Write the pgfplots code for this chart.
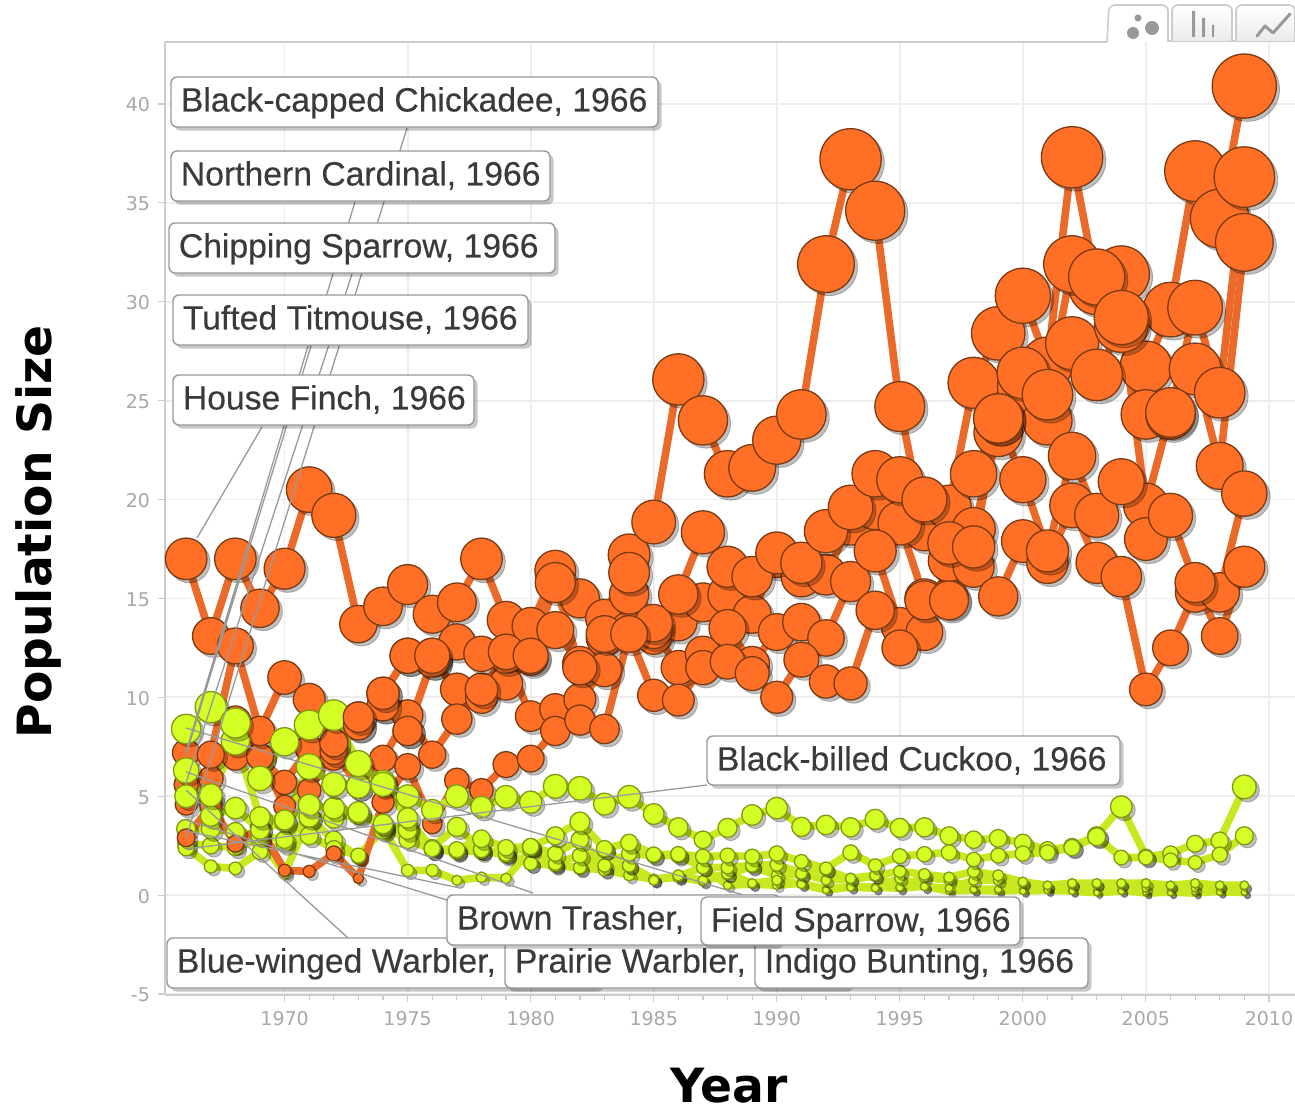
\documentclass[border=0pt]{standalone}
\usepackage{fontspec}
\setmainfont{Liberation Sans}
\newfontfamily\tickfont{DejaVu Sans}
\newfontfamily\labfont{Liberation Sans}[FakeBold=0.3]
\usepackage{pgfplots}
\usepackage{pgfplotstable}
\pgfplotsset{compat=1.18}
\usetikzlibrary{shadows}

\definecolor{ofill}{HTML}{FF7026}
\definecolor{oline}{HTML}{EB6A2A}
\definecolor{oedge}{HTML}{7A3A14}
\definecolor{gfill}{HTML}{D4FF24}
\definecolor{gline}{HTML}{C8E820}
\definecolor{gedge}{HTML}{7F9A12}
\definecolor{gridc}{HTML}{EDEDED}
\definecolor{axisc}{HTML}{CCCCCC}
\definecolor{tickc}{HTML}{A8A8A8}
\definecolor{leadc}{HTML}{999999}
\definecolor{labc}{HTML}{3A3A3A}

\pgfplotstableread{
year o1 o2 o3 o4 o5
1966 17.0 7.2 5.6 4.6 2.9
1967 13.1 7.1 4.8 5.9 4.5
1968 17.0 12.6 8.8 7.0 2.6
1969 14.5 8.3 7.0 7.0 3.4
1970 16.5 11.0 5.7 4.5 1.25
1971 20.5 9.9 7.4 5.3 1.2
1972 19.2 7.7 7.0 7.3 2.1
1973 13.7 9.0 8.6 5.5 0.85
1974 14.6 10.2 9.6 6.9 4.7
1975 15.7 12.1 8.3 9.1 6.5
1976 14.2 12.1 11.9 7.1 3.6
1977 14.8 12.8 10.4 8.9 5.8
1978 17.0 12.2 10.0 10.4 5.3
1979 13.9 12.3 10.7 12.1 6.6
1980 13.6 12.1 12.0 9.05 6.9
1981 16.4 15.8 13.4 9.4 8.3
1982 15.0 11.5 11.7 9.9 8.85
1983 14.0 13.2 13.0 11.4 8.4
1984 17.2 16.3 13.4 15.2 13.2
1985 18.86 13.75 13.1 13.4 10.1
1986 26.07 15.2 13.8 11.5 9.86
1987 24.0 18.34 14.8 12.2 11.5
1988 21.3 16.6 15.2 13.5 11.8
1989 21.6 16.1 14.2 11.7 11.2
1990 23.0 17.3 17.1 13.3 10.0
1991 24.3 16.8 16.1 13.8 11.9
1992 31.9 18.4 16.2 13.0 10.8
1993 37.2 19.6 18.8 15.85 10.7
1994 34.6 21.3 19.6 17.4 14.4
1995 24.7 21.0 18.8 13.6 12.5
1996 18.5 20.0 15.0 13.3 14.9
1997 19.6 17.8 15.0 16.9 14.9
1998 25.9 21.3 18.5 16.6 17.6
1999 28.4 24.1 23.4 15.1 24.1
2000 30.3 26.4 25.7 17.9 21.0
2001 26.9 25.3 24.0 16.8 17.4
2002 37.3 31.9 27.9 19.7 22.2
2003 30.75 31.25 26.3 16.8 19.2
2004 31.4 29.2 28.8 16.1 20.9
2005 26.7 19.7 24.3 10.4 18.0
2006 29.6 24.4 24.3 12.5 19.2
2007 36.6 29.7 26.6 15.3 15.8
2008 34.2 25.4 21.7 15.3 13.1
2009 40.9 36.3 33.0 20.3 16.6
}\orangetab

\pgfplotstableread{
year g1 g2 g3 g4 g5 g6
1966 5.0 8.4 6.3 3.35 2.6 2.4
1967 5.05 9.5 4.0 3.35 2.5 1.45
1968 7.8 8.7 4.4 3.2 2.4 1.35
1969 3.95 5.9 3.3 3.0 2.8 2.2
1970 3.8 7.75 3.7 2.8 1.1 2.6
1971 6.5 8.6 4.55 3.95 3.9 3.0
1972 5.6 9.1 4.4 3.9 2.8 2.35
1973 5.5 6.65 4.2 4.1 1.95 2.0
1974 5.7 5.6 3.6 3.5 3.4 3.3
1975 5.0 3.9 3.3 2.8 1.25 3.5
1976 4.3 2.35 2.4 2.3 1.25 2.3
1977 5.0 2.3 3.45 2.2 0.75 2.25
1978 4.45 2.85 2.3 2.3 0.9 2.2
1979 4.97 2.4 2.1 2.0 0.85 2.1
1980 4.7 2.45 2.45 1.6 2.3 1.6
1981 5.5 3.0 2.1 1.6 1.55 1.5
1982 5.4 3.7 2.8 2.0 1.35 1.4
1983 4.6 2.35 1.5 1.27 1.3 2.3
1984 4.97 2.65 2.1 1.5 1.0 1.5
1985 4.1 2.05 2.0 0.75 0.8 0.8
1986 3.43 2.07 2.0 1.0 0.95 0.9
1987 2.8 1.95 1.4 0.75 1.4 0.7
1988 3.4 2.0 1.4 1.1 0.5 1.05
1989 4.05 1.95 1.5 0.6 0.55 1.45
1990 4.4 2.1 1.55 0.75 0.5 1.0
1991 3.45 1.7 1.1 0.55 0.6 1.05
1992 3.55 1.35 0.75 0.25 0.3 1.3
1993 3.43 2.15 0.85 0.4 0.45 0.8
1994 3.83 1.5 1.0 0.35 0.4 0.95
1995 3.4 1.97 1.2 0.85 0.35 0.4
1996 3.43 2.07 1.05 0.43 0.45 0.9
1997 3.0 2.15 0.9 0.35 0.2 0.75
1998 2.8 1.8 1.2 0.75 0.25 0.3
1999 2.87 2.0 1.0 0.75 0.2 0.3
2000 2.65 2.1 0.67 0.2 0.25 0.6
2001 2.3 2.15 0.5 0.25 0.3 0.45
2002 2.45 2.4 0.6 0.2 0.25 0.55
2003 3.0 2.95 0.6 0.12 0.2 0.55
2004 4.47 1.9 0.6 0.2 0.25 0.55
2005 1.95 1.9 0.6 0.35 0.1 0.15
2006 2.1 1.77 0.5 0.12 0.15 0.45
2007 2.6 1.65 0.6 0.35 0.1 0.15
2008 2.75 2.05 0.5 0.15 0.2 0.45
2009 5.47 3.0 0.5 0.15 0.12 0.45
}\greentab

% [#1 extra plot keys], #2 table, #3 column, #4 line colour, #5 fill, #6 edge
\newcommand{\bubbles}[6][]{%
  \addplot[forget plot, only marks, mark=*, scatter, xshift=1.6pt, yshift=-1.6pt, #1,
    visualization depends on={2.5*sqrt(\thisrow{#3}+0.25)\as\msize},
    scatter/@pre marker code/.code={\begin{scope}[/tikz/mark size=\msize,
      /tikz/draw=none, /tikz/fill=black, /tikz/opacity=0.25]},
    scatter/@post marker code/.code={\end{scope}}]
    table[x=year, y=#3] {#2};
  \addplot[forget plot, color=#4, line width=3.8pt, mark=*, scatter, #1,
    visualization depends on={2.5*sqrt(\thisrow{#3}+0.25)\as\msize},
    scatter/@pre marker code/.code={\begin{scope}[/tikz/mark size=\msize,
      /tikz/draw=#6, /tikz/fill=#5, /tikz/line width=0.65pt]},
    scatter/@post marker code/.code={\end{scope}}]
    table[x=year, y=#3] {#2};
}
\newcommand{\lab}[5]{%
  \draw[draw=gray!80, line width=0.7pt, fill=white, rounded corners=3pt,
    drop shadow={shadow xshift=1.8pt, shadow yshift=-1.8pt, fill=black, opacity=0.22}]
    (#1,#2) rectangle (#3,#4);
  \node[anchor=base west, inner sep=0pt, text=labc, font=\labfont\fontsize{16.85}{18}\selectfont]
    at (#1+9.5,#2+34.5) {#5};
}

\begin{document}
\begin{tikzpicture}
\useasboundingbox (0,0) rectangle (647.5pt,554.5pt);
\begin{axis}[
    at={(82.5pt,57pt)}, anchor=south west,
    scale only axis, width=565pt, height=476.5pt,
    xmin=1965.14, xmax=2011.06,
    ymin=-5.05, ymax=43.13,
    axis x line*=bottom, axis y line*=left,
    axis line style={draw=axisc, line width=0.9pt, -},
    xtick={1970,1975,...,2010},
    ytick={-5,0,...,40},
    minor x tick num=4,
    tick align=outside,
    major tick length=3.5pt, minor tick length=2.5pt,
    tick style={draw=axisc, line width=0.6pt},
    xmajorgrids, ymajorgrids,
    grid style={draw=gridc, line width=0.9pt},
    /pgf/number format/1000 sep={},
    /pgf/number format/assume math mode=true,
    tick label style={font=\tickfont\fontsize{9.5}{10}\selectfont, text=tickc},
    xticklabel style={yshift=-1pt},
    yticklabel style={xshift=-0.5pt, yshift=-0.5pt},
    clip=false,
    xlabel={Year}, ylabel={Population Size},
    every axis x label/.style={at={(axis description cs:0.499,0)}, anchor=base, inner sep=0pt,
      yshift=-53.5pt, font=\tickfont\bfseries\fontsize{23.6}{26}\selectfont},
    every axis y label/.style={at={(axis description cs:-0.1,0.486)}, anchor=base, rotate=90, inner sep=0pt,
      font=\tickfont\bfseries\fontsize{23.6}{26}\selectfont},
]
\bubbles{\orangetab}{o1}{oline}{ofill}{oedge}
\bubbles{\orangetab}{o3}{oline}{ofill}{oedge}
\bubbles{\orangetab}{o4}{oline}{ofill}{oedge}
\bubbles{\orangetab}{o2}{oline}{ofill}{oedge}
\bubbles{\greentab}{g5}{gline}{gfill}{gedge}
\bubbles{\greentab}{g6}{gline}{gfill}{gedge}
\bubbles{\greentab}{g4}{gline}{gfill}{gedge}
\bubbles{\orangetab}{o5}{oline}{ofill}{oedge}
\bubbles{\greentab}{g3}{gline}{gfill}{gedge}
\bubbles{\greentab}{g1}{gline}{gfill}{gedge}
\bubbles{\greentab}{g2}{gline}{gfill}{gedge}
% these two lie over the 1972 green bubble from 1973 on
\bubbles[restrict x to domain=1973:1976]{\orangetab}{o3}{oline}{ofill}{oedge}
\bubbles[restrict x to domain=1973:1976]{\orangetab}{o2}{oline}{ofill}{oedge}
\end{axis}

% everything below is in reference pixels, origin top left
\begin{scope}[shift={(0,554.5pt)}, x=0.5pt, y=-0.5pt]
  % top edge and tabs
  \draw[axisc, line width=0.9pt] (165,42) -- (1107,42);
  \draw[axisc, line width=0.9pt] (1168,41) -- (1295,41);
  \draw[axisc, line width=0.8pt, fill=white, rounded corners=3pt]
    (1107,42) -- (1109,5) -- (1168,5) -- (1168,42);
  \draw[draw=axisc, line width=0.8pt, rounded corners=3pt, top color=white, bottom color=black!8]
    (1172,41) -- (1172,5) -- (1232,5) -- (1232,41);
  \draw[draw=axisc, line width=0.8pt, rounded corners=3pt, top color=white, bottom color=black!8]
    (1236,41) -- (1236,5) -- (1295,5) -- (1295,41);
  \fill[gray!80] (1138,18) circle (3.5) (1133,33) circle (6) (1152,28) circle (7);
  \fill[gray!80] (1192,11) rectangle (1195,37) (1202,18) rectangle (1205,37) (1212,25) rectangle (1214,37);
  \draw[gray!80, line width=1.5pt, line cap=round, line join=round] (1257,36) -- (1265,26) -- (1273,33) -- (1290,14);

  % leader lines
  \draw[leadc, line width=0.65pt]
    (407,128) -- (186,838)
    (355,202) -- (186,755)
    (352,274) -- (186,783)
    (308,346) -- (186,752)
    (262,427) -- (197,538)
    (707,785) -- (186,849)
    (750,897) -- (186,728)
    (533,893) -- (186,772)
    (460,888) -- (186,831)
    (447,900) -- (186,820)
    (348,938) -- (186,790);

  % labels
  \lab{171}{77}{658}{127}{Black-capped Chickadee, 1966}
  \lab{171}{151}{550}{201}{Northern Cardinal, 1966}
  \lab{169}{223}{555}{273}{Chipping Sparrow, 1966}
  \lab{173}{295}{528}{345}{Tufted Titmouse, 1966}
  \lab{173}{375}{474}{425}{House Finch, 1966}
  \lab{707}{736}{1120}{785}{Black-billed Cuckoo, 1966}
  \lab{167}{938}{600}{988}{Blue-winged Warbler,}
  \lab{505}{938}{850}{988}{Prairie Warbler,}
  \lab{755}{938}{1088}{988}{Indigo Bunting, 1966}
  \lab{447}{895}{780}{945}{Brown Trasher,}
  \lab{701}{897}{1020}{945}{Field Sparrow, 1966}
\end{scope}
\end{tikzpicture}
\end{document}
